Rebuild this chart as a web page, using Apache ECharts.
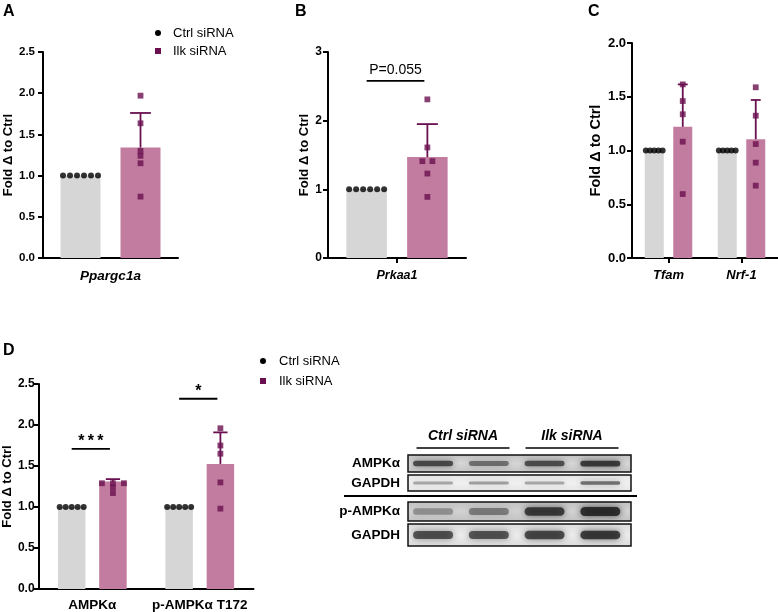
<!DOCTYPE html>
<html><head><meta charset="utf-8">
<script src="https://cdn.jsdelivr.net/npm/echarts@6/dist/echarts.min.js"></script>
<style>html,body{margin:0;padding:0;background:#fff}#c{width:778px;height:612px}</style>
</head><body><div id="c"></div>
<script>
// ---------------- DATA ----------------
const seriesNames = ['Ctrl siRNA', 'Ilk siRNA'];
const yTitle = 'Fold \u0394 to Ctrl';

// Panel A
const catA = ['Ppargc1a'];
const ctrlMeanA = [1.0];
const ilkMeanA = [1.34];
const ilkSdA = [0.42];
const ctrlPtsA = [[1, 1, 1, 1, 1, 1]];
const ilkPtsA = [[1.97, 1.635, 1.30, 1.24, 1.15, 0.745]];
const yTicksA = [0, 0.5, 1.0, 1.5, 2.0, 2.5];

// Panel B
const catB = ['Prkaa1'];
const ctrlMeanB = [1.0];
const ilkMeanB = [1.47];
const ilkSdB = [0.48];
const ctrlPtsB = [[1, 1, 1, 1, 1, 1]];
const ilkPtsB = [[2.31, 1.61, 1.41, 1.41, 1.23, 0.89]];
const yTicksB = [0, 1, 2, 3];
const sigTextB = ['P=0.055'];
const sigYB = [2.58];

// Panel C
const catC = ['Tfam', 'Nrf-1'];
const ctrlMeanC = [1.0, 1.0];
const ilkMeanC = [1.22, 1.105];
const ilkSdC = [0.395, 0.365];
const ctrlPtsC = [[1, 1, 1, 1, 1], [1, 1, 1, 1, 1]];
const ilkPtsC = [[1.615, 1.46, 1.337, 1.082, 0.595], [1.588, 1.324, 1.06, 0.887, 0.673]];
const yTicksC = [0, 0.5, 1.0, 1.5, 2.0];

// Panel D
const catD = ['AMPK\u03b1', 'p-AMPK\u03b1 T172'];
const ctrlMeanD = [1.0, 1.0];
const ilkMeanD = [1.31, 1.525];
const ilkSdD = [0.03, 0.385];
const ctrlPtsD = [[1, 1, 1, 1, 1], [1, 1, 1, 1, 1]];
const ilkPtsD = [[1.29, 1.29, 1.29, 1.24, 1.17], [1.96, 1.75, 1.65, 1.30, 0.98]];
const yTicksD = [0, 0.5, 1.0, 1.5, 2.0, 2.5];
const sigTextD = ['*\u2009*\u2009*', '*'];
const sigYD = [1.71, 2.32];

// Western blot (band intensities, 0..1 darkness, per lane)
const blotGroups = ['Ctrl siRNA', 'Ilk siRNA'];
const blotRows = ['AMPK\u03b1', 'GAPDH', 'p-AMPK\u03b1', 'GAPDH'];
const blotIntensity = [
  [0.80, 0.58, 0.78, 0.90],
  [0.38, 0.42, 0.38, 0.65],
  [0.38, 0.50, 0.88, 0.97],
  [0.78, 0.76, 0.82, 0.90]
];

// ---------------- STYLE ----------------
const FONT = '"Liberation Sans", Arial, Helvetica, sans-serif';
const GREY = '#d6d6d6';
const MAUVE = '#c27c9f';
const PURPLE = '#6a1050';

const panels = [
  { grid: { left: 43, top: 52, width: 135, height: 206 }, cats: catA, ctrlMean: ctrlMeanA, ilkMean: ilkMeanA, ilkSd: ilkSdA,
    ctrlPts: ctrlPtsA, ilkPts: ilkPtsA, ticks: yTicksA, dec: 1, bw: 40, tickFont: 11.5, labelMargin: 8, nameGap: 27, nameFont: 13,
    catFont: 13.5, catItalic: true, catMargin: 11, xTick: false, dotSpace: 7, sqSpace: 10, sig: null },
  { grid: { left: 328, top: 52, width: 138, height: 206 }, cats: catB, ctrlMean: ctrlMeanB, ilkMean: ilkMeanB, ilkSd: ilkSdB,
    ctrlPts: ctrlPtsB, ilkPts: ilkPtsB, ticks: yTicksB, dec: 0, bw: 40.5, tickFont: 12, labelMargin: 6, nameGap: 17, nameFont: 13,
    catFont: 12.5, catItalic: true, catMargin: 11, xTick: true, dotSpace: 7, sqSpace: 10,
    sig: { text: sigTextB, y: sigYB, font: 14, weight: 'normal', dy: -10.5 } },
  { grid: { left: 632, top: 43, width: 146, height: 215 }, cats: catC, ctrlMean: ctrlMeanC, ilkMean: ilkMeanC, ilkSd: ilkSdC,
    ctrlPts: ctrlPtsC, ilkPts: ilkPtsC, ticks: yTicksC, dec: 1, bw: 19, tickFont: 13, labelMargin: 6, nameGap: 29, nameFont: 14.5,
    catFont: 13, catItalic: true, catMargin: 11, xTick: true, dotSpace: 4.2, sqSpace: 10, sig: null },
  { grid: { left: 35.5, top: 384, width: 218, height: 205 }, cats: catD, ctrlMean: ctrlMeanD, ilkMean: ilkMeanD, ilkSd: ilkSdD,
    ctrlPts: ctrlPtsD, ilkPts: ilkPtsD, ticks: yTicksD, dec: 1, bw: 27.5, tickFont: 12, labelMargin: 4, nameGap: 20, nameFont: 13,
    catFont: 13.5, catItalic: false, catMargin: 9, xTick: false, dotSpace: 6, sqSpace: 11,
    sig: { text: sigTextD, y: sigYD, font: 16, weight: 'bold', dy: -7 } }
];

// spread points that share the same value side by side (GraphPad-like)
function spread(values, spacing, baseOffset) {
  const groups = {};
  values.forEach(v => { const k = v.toFixed(3); groups[k] = (groups[k] || 0) + 1; });
  const seen = {};
  return values.map(v => {
    const k = v.toFixed(3);
    const n = groups[k];
    const i = seen[k] = (seen[k] === undefined ? 0 : seen[k] + 1);
    return baseOffset + (i - (n - 1) / 2) * spacing;
  });
}

const grids = [], xAxes = [], yAxes = [], series = [];
panels.forEach((p, gi) => {
  const off = p.bw * 0.75; // barGap 50% -> centre offset
  grids.push(Object.assign({}, p.grid));
  xAxes.push({
    type: 'category', gridIndex: gi, data: p.cats,
    axisLine: { lineStyle: { color: '#000', width: 2 } },
    axisTick: { show: p.xTick, alignWithLabel: true, length: 5, lineStyle: { color: '#000', width: 2 } },
    axisLabel: { color: '#000', fontFamily: FONT, fontWeight: 'bold', fontStyle: p.catItalic ? 'italic' : 'normal',
      fontSize: p.catFont, margin: p.catMargin, interval: 0 },
    splitLine: { show: false }
  });
  const tk = p.ticks;
  yAxes.push({
    type: 'value', gridIndex: gi, min: tk[0], max: tk[tk.length - 1], interval: tk[1] - tk[0],
    axisLine: { show: true, lineStyle: { color: '#000', width: 2 } },
    axisTick: { show: true, length: 5, lineStyle: { color: '#000', width: 2 } },
    axisLabel: { color: '#000', fontFamily: FONT, fontWeight: 'bold', fontSize: p.tickFont, margin: p.labelMargin,
      formatter: v => v.toFixed(p.dec) },
    splitLine: { show: false },
    name: yTitle, nameLocation: 'middle', nameGap: p.nameGap,
    nameTextStyle: { color: '#000', fontFamily: FONT, fontWeight: 'bold', fontSize: p.nameFont }
  });
  series.push({
    type: 'bar', name: seriesNames[0], xAxisIndex: gi, yAxisIndex: gi, data: p.ctrlMean,
    barWidth: p.bw, barGap: '50%', itemStyle: { color: GREY }, z: 2, silent: true
  });
  series.push({
    type: 'bar', name: seriesNames[1], xAxisIndex: gi, yAxisIndex: gi, data: p.ilkMean,
    barWidth: p.bw, barGap: '50%', itemStyle: { color: MAUVE }, z: 2, silent: true
  });
  const capW = p.bw * 0.52;
  series.push({
    type: 'custom', xAxisIndex: gi, yAxisIndex: gi, z: 3, silent: true,
    data: p.ilkMean.map((m, k) => [k, m, p.ilkSd[k]]),
    renderItem: (params, api) => {
      const c = api.coord([api.value(0), api.value(1)]);
      const t = api.coord([api.value(0), api.value(1) + api.value(2)]);
      const x = c[0] + off;
      const st = { stroke: PURPLE, lineWidth: 1.8 };
      return { type: 'group', children: [
        { type: 'line', shape: { x1: x, y1: c[1], x2: x, y2: t[1] }, style: st },
        { type: 'line', shape: { x1: x - capW / 2, y1: t[1], x2: x + capW / 2, y2: t[1] }, style: st }
      ] };
    }
  });
  const ctrlData = [], ilkData = [];
  p.ctrlPts.forEach((vals, k) => {
    const offs = spread(vals, p.dotSpace, -off);
    vals.forEach((v, j) => ctrlData.push({ value: [k, v], symbolOffset: [offs[j], 0] }));
  });
  p.ilkPts.forEach((vals, k) => {
    const offs = spread(vals, p.sqSpace, off);
    vals.forEach((v, j) => ilkData.push({ value: [k, v], symbolOffset: [offs[j], 0] }));
  });
  series.push({ type: 'scatter', name: seriesNames[0], xAxisIndex: gi, yAxisIndex: gi, data: ctrlData,
    symbol: 'circle', symbolSize: 6, itemStyle: { color: '#000' }, z: 5, silent: true });
  series.push({ type: 'scatter', name: seriesNames[1], xAxisIndex: gi, yAxisIndex: gi, data: ilkData,
    symbol: 'rect', symbolSize: 5.8, itemStyle: { color: PURPLE }, z: 5, silent: true });
  if (p.sig) {
    const s = p.sig;
    series.push({
      type: 'custom', xAxisIndex: gi, yAxisIndex: gi, z: 6, silent: true,
      data: s.y.map((y, k) => [k, y]),
      renderItem: (params, api) => {
        const c = api.coord([api.value(0), api.value(1)]);
        return { type: 'group', children: [
          { type: 'line', shape: { x1: c[0] - off, y1: c[1], x2: c[0] + off - 3, y2: c[1] },
            style: { stroke: '#000', lineWidth: 1.8 } },
          { type: 'text', x: c[0] - 1.5, y: c[1] + s.dy,
            style: { text: s.text[params.dataIndex], fill: '#000', font: s.weight + ' ' + s.font + 'px ' + FONT,
              textAlign: 'center', textVerticalAlign: 'middle' } }
        ] };
      }
    });
  }
});

// ---------------- WESTERN BLOT (graphic) ----------------
const graphics = [];
const blot = { x: 408, w: 223, rows: [[455, 17], [475, 16], [502, 19], [524, 22]],
  bg: [['#c4c4c4', '#d6d6d6'], ['#e6e6e6', '#f0f0f0'], ['#c2c2c2', '#d2d2d2'], ['#dcdcdc', '#ececec']], bandH: [5, 3.5, 7.5, 7.5] };
blotRows.forEach((name, r) => {
  const [y, h] = blot.rows[r];
  graphics.push({ type: 'rect', shape: { x: blot.x, y: y, width: blot.w, height: h },
    style: { fill: new echarts.graphic.LinearGradient(0, 0, 0, 1, [
      { offset: 0, color: blot.bg[r][0] }, { offset: 0.5, color: blot.bg[r][1] }, { offset: 1, color: blot.bg[r][0] }]),
      stroke: null }, z: 1 });
  blotIntensity[r].forEach((v, l) => {
    const cx = blot.x + (l + 0.45) * blot.w / 4;
    const bh = blot.bandH[r] * (0.7 + 0.5 * v);
    graphics.push({ type: 'rect', shape: { x: cx - 20, y: y + h / 2 - bh / 2, width: 40, height: bh, r: bh / 2 },
      style: { fill: 'rgba(25,25,25,' + (v * 0.85) + ')', shadowBlur: 7, shadowColor: 'rgba(25,25,25,' + (v * 0.9) + ')' }, z: 2 });
  });
  graphics.push({ type: 'rect', shape: { x: blot.x, y: y, width: blot.w, height: h },
    style: { fill: null, stroke: '#111', lineWidth: 1.5 }, z: 3 });
  graphics.push({ type: 'text', x: 400, y: y + h / 2,
    style: { text: name, font: 'bold 13.5px ' + FONT, fill: '#000', textAlign: 'right', textVerticalAlign: 'middle' }, z: 3 });
});
graphics.push({ type: 'line', shape: { x1: 344, y1: 496, x2: 637, y2: 496 }, style: { stroke: '#000', lineWidth: 2 }, z: 3 });
const groupCenters = [463, 572];
blotGroups.forEach((g, i) => {
  graphics.push({ type: 'text', x: groupCenters[i], y: 436,
    style: { text: g, font: 'italic bold 14px ' + FONT, fill: '#000', textAlign: 'center', textVerticalAlign: 'middle' }, z: 3 });
  graphics.push({ type: 'line', shape: { x1: groupCenters[i] - 46.5, y1: 448, x2: groupCenters[i] + 46.5, y2: 448 },
    style: { stroke: '#000', lineWidth: 1.5 }, z: 3 });
});

// panel letters
const letters = [['A', 3, 4], ['B', 295, 4], ['C', 588, 4], ['D', 3, 343]];
const titles = letters.map(([t, x, y]) => ({ text: t, left: x, top: y, padding: 0,
  textStyle: { fontFamily: FONT, fontWeight: 'bold', fontSize: 16, color: '#000' } }));

const legendItems = [
  { name: seriesNames[0], icon: 'circle', itemStyle: { color: '#000' } },
  { name: seriesNames[1], icon: 'rect', itemStyle: { color: PURPLE } }
];
const legendBase = { orient: 'vertical', itemWidth: 6, itemHeight: 6, selectedMode: false,
  padding: 0, textStyle: { fontFamily: FONT, fontSize: 13, color: '#000', lineHeight: 14, padding: [0, 0, 0, 7] } };

const chart = echarts.init(document.getElementById('c'), null, { renderer: 'canvas' });
chart.setOption({
  animation: false,
  backgroundColor: '#fff',
  title: titles,
  legend: [
    Object.assign({}, legendBase, { data: legendItems, left: 155, top: 26, itemGap: 4 }),
    Object.assign({}, legendBase, { data: legendItems, left: 260, top: 354, itemGap: 6,
      textStyle: Object.assign({}, legendBase.textStyle, { padding: [0, 0, 0, 8] }) })
  ],
  grid: grids, xAxis: xAxes, yAxis: yAxes, series: series,
  graphic: graphics
});
</script>
</body></html>
